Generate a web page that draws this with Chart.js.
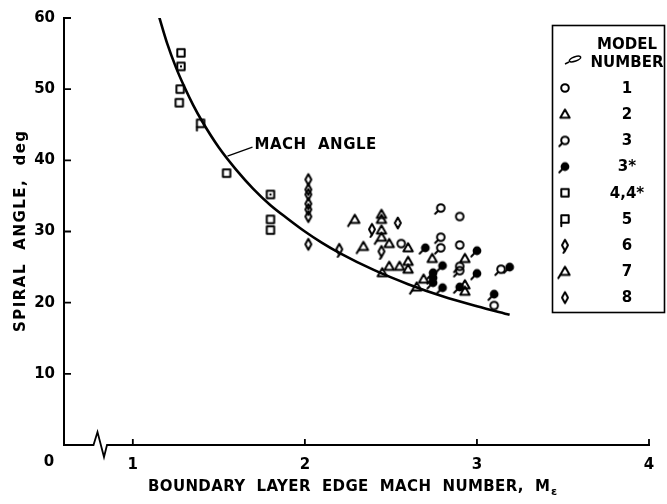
<!DOCTYPE html>
<html>
<head>
<meta charset="utf-8">
<script src="https://cdn.jsdelivr.net/npm/chart.js@4.4.0/dist/chart.umd.min.js"></script>
<style>
    html, body { margin: 0; padding: 0; background: #fff; }
    #wrap { width: 667px; height: 504px; position: relative; }
</style>
</head>
<body>
<div id="wrap"><canvas id="spiralChart"></canvas></div>
<script>
// Mach angle curve
const machCurveM = [1.15, 1.2, 1.25, 1.3, 1.35, 1.4, 1.5, 1.6, 1.7, 1.8, 1.9, 2.0, 2.1, 2.2, 2.4, 2.6, 2.8, 3.0, 3.19];
const machCurveA = [60.4, 56.4, 53.1, 50.3, 47.8, 45.6, 41.8, 38.7, 36.0, 33.7, 31.8, 30.0, 28.4, 27.0, 24.6, 22.6, 20.9, 19.5, 18.3];

// measured spiral angles per model (Mach number, angle in deg)
const model1M = [2.56, 2.90, 2.90, 3.10];
const model1A = [28.3, 32.1, 28.1, 19.6];
const model2M = [2.445, 2.445, 2.445, 2.49, 2.60, 2.49, 2.55, 2.60, 2.60, 2.45, 2.69, 2.74, 2.93, 2.93, 2.93];
const model2A = [32.4, 31.7, 30.2, 28.3, 27.7, 25.1, 25.1, 25.8, 24.7, 24.2, 23.3, 26.2, 26.2, 22.5, 21.6];
const model3M = [2.79, 2.79, 2.79, 2.90, 2.90, 3.14];
const model3A = [33.3, 29.2, 27.7, 25.1, 24.5, 24.7];
const model3sM = [2.70, 2.745, 2.745, 2.745, 2.80, 2.80, 2.90, 3.00, 3.00, 3.10, 3.19];
const model3sA = [27.7, 24.2, 23.5, 22.8, 25.2, 22.1, 22.2, 27.3, 24.1, 21.2, 25.0];
const model4M = [1.28, 1.28, 1.275, 1.27, 1.545, 1.80, 1.80, 1.80];
const model4A = [55.1, 53.2, 50.0, 48.1, 38.2, 35.2, 31.7, 30.2];
const model4Starred = [false, true, false, false, false, true, false, false];
const model5M = [1.394];
const model5A = [45.2];
const model6M = [2.20, 2.39, 2.445];
const model6A = [27.5, 30.3, 27.2];
const model7M = [2.29, 2.34, 2.65, 2.445];
const model7A = [31.7, 27.9, 22.2, 29.2];
const model8M = [2.02, 2.02, 2.02, 2.02, 2.02, 2.02, 2.02, 2.54];
const model8A = [37.3, 35.9, 35.2, 33.9, 33.1, 32.1, 28.2, 31.2];

const modelLabels = ['1', '2', '3', '3*', '4,4*', '5', '6', '7', '8'];
const yTicks = [10, 20, 30, 40, 50, 60];
const xTicks = [1, 2, 3, 4];

const FONT = '"DejaVu Sans", sans-serif';

function toPoints(xs, ys) {
    return xs.map((x, i) => ({ x: x, y: ys[i] }));
}

// small canvases used as point styles
function makeMarker(kind) {
    const c = document.createElement('canvas');
    c.width = 18;
    c.height = 18;
    const g = c.getContext('2d');
    g.strokeStyle = '#000';
    g.fillStyle = '#000';
    g.lineWidth = 2;
    g.lineJoin = 'round';
    g.lineCap = 'round';

    const circle = (fill) => {
        g.beginPath();
        g.arc(9, 9, fill ? 4.4 : 3.8, 0, Math.PI * 2);
        fill ? g.fill() : g.stroke();
    };
    const tri = () => {
        g.beginPath();
        g.moveTo(9, 4.3);
        g.lineTo(13.7, 12.6);
        g.lineTo(4.3, 12.6);
        g.closePath();
        g.stroke();
    };
    const square = () => g.strokeRect(5.3, 5.3, 7.4, 7.4);
    const diamond = () => {
        g.beginPath();
        g.moveTo(9, 3.6);
        g.lineTo(12, 9);
        g.lineTo(9, 14.4);
        g.lineTo(6, 9);
        g.closePath();
        g.stroke();
    };
    const tail = (x1, y1, x2, y2) => {
        g.beginPath();
        g.moveTo(x1, y1);
        g.lineTo(x2, y2);
        g.stroke();
    };

    switch (kind) {
        case 'circle': circle(false); break;
        case 'tri': tri(); break;
        case 'circleTail': circle(false); tail(6.3, 11.7, 3.3, 14.7); break;
        case 'dotTail': circle(true); tail(6.2, 11.8, 3.3, 14.7); break;
        case 'square': square(); break;
        case 'squareDot': square(); g.fillRect(8, 8, 2, 2); break;
        case 'squareTail': square(); tail(5.3, 12.7, 5.3, 16.2); break;
        case 'diamondTail': diamond(); tail(9, 14.4, 7.4, 16.7); break;
        case 'triTail': tri(); tail(4.3, 12.6, 2.3, 15.6); break;
        case 'diamond': diamond(); break;
    }
    return c;
}

const markers = {
    circle: makeMarker('circle'),
    tri: makeMarker('tri'),
    circleTail: makeMarker('circleTail'),
    dotTail: makeMarker('dotTail'),
    square: makeMarker('square'),
    squareDot: makeMarker('squareDot'),
    squareTail: makeMarker('squareTail'),
    diamondTail: makeMarker('diamondTail'),
    triTail: makeMarker('triTail'),
    diamond: makeMarker('diamond')
};

const legendMarkers = [markers.circle, markers.tri, markers.circleTail, markers.dotTail,
    markers.square, markers.squareTail, markers.diamondTail, markers.triTail, markers.diamond];

function modelSet(label, xs, ys, style) {
    return {
        label: label,
        data: toPoints(xs, ys),
        pointStyle: style,
        pointRadius: 5,
        showLine: false
    };
}

const decorPlugin = {
    id: 'decor',
    afterDraw(chart) {
        const ctx = chart.ctx;
        const xs = chart.scales.x;
        const ys = chart.scales.y;
        const area = chart.chartArea;
        ctx.save();
        ctx.strokeStyle = '#000';
        ctx.fillStyle = '#000';

        // inward tick marks
        ctx.lineWidth = 1.8;
        ctx.beginPath();
        yTicks.forEach(v => {
            const py = ys.getPixelForValue(v);
            ctx.moveTo(area.left, py);
            ctx.lineTo(area.left + 7, py);
        });
        xTicks.forEach(v => {
            const px = xs.getPixelForValue(v);
            ctx.moveTo(px, area.bottom);
            ctx.lineTo(px, area.bottom - 6);
        });
        ctx.stroke();

        // axis break
        const b = area.bottom;
        ctx.fillStyle = '#fff';
        ctx.fillRect(92, b - 3, 16, 6);
        ctx.fillStyle = '#000';
        ctx.beginPath();
        ctx.moveTo(91, b);
        ctx.lineTo(93.5, b);
        ctx.lineTo(97.5, b - 13);
        ctx.lineTo(104, b + 12);
        ctx.lineTo(107, b);
        ctx.lineTo(109, b);
        ctx.stroke();

        // origin label
        ctx.font = 'bold 15px ' + FONT;
        ctx.textAlign = 'center';
        ctx.textBaseline = 'middle';
        ctx.fillText('0', 49, 462);

        // y title
        ctx.save();
        ctx.translate(21, 232);
        ctx.rotate(-Math.PI / 2);
        ctx.font = 'bold 15px ' + FONT;
        const yTitle = 'SPIRAL  ANGLE,  deg';
        ctx.letterSpacing = '0px';
        const yw = ctx.measureText(yTitle).width;
        const ySp = Math.max(0, (201 - yw) / (yTitle.length - 1));
        ctx.letterSpacing = ySp.toFixed(2) + 'px';
        ctx.textAlign = 'left';
        ctx.fillText(yTitle, -100, 0);
        ctx.restore();

        // x title with subscript
        ctx.font = 'bold 15px ' + FONT;
        ctx.textAlign = 'left';
        ctx.textBaseline = 'alphabetic';
        const xTitle = 'BOUNDARY  LAYER  EDGE  MACH  NUMBER,  M';
        ctx.letterSpacing = '0px';
        const xw = ctx.measureText(xTitle).width;
        const xSp = Math.max(0, (402 - xw) / (xTitle.length - 1));
        ctx.letterSpacing = xSp.toFixed(2) + 'px';
        ctx.fillText(xTitle, 148, 491);
        ctx.letterSpacing = '0px';
        ctx.font = 'bold 11px ' + FONT;
        ctx.fillText('\u03b5', 551, 495);

        // Mach angle annotation
        const lx = xs.getPixelForValue(1.55);
        const ly = ys.getPixelForValue(40.6);
        ctx.lineWidth = 1.3;
        ctx.beginPath();
        ctx.moveTo(lx, ly);
        ctx.lineTo(lx + 25, ly - 9);
        ctx.stroke();
        ctx.font = 'bold 15px ' + FONT;
        ctx.letterSpacing = '0.5px';
        ctx.textBaseline = 'middle';
        ctx.fillText('MACH  ANGLE', lx + 27, ly - 11);
        ctx.letterSpacing = '0px';

        // legend box
        ctx.fillStyle = '#fff';
        ctx.fillRect(552, 25, 113, 287);
        ctx.fillStyle = '#000';
        ctx.lineWidth = 1.6;
        ctx.strokeRect(552.5, 25.5, 112, 287);
        ctx.font = 'bold 15px ' + FONT;
        ctx.textAlign = 'center';
        ctx.textBaseline = 'middle';
        ctx.fillText('MODEL', 627, 45);
        ctx.fillText('NUMBER', 627, 63);
        // tail mark next to the header
        ctx.lineWidth = 1.5;
        ctx.beginPath();
        ctx.ellipse(575, 59, 6, 2.2, -0.35, 0, Math.PI * 2);
        ctx.stroke();
        ctx.beginPath();
        ctx.moveTo(569, 62);
        ctx.lineTo(565, 64);
        ctx.stroke();

        modelLabels.forEach((lab, i) => {
            const ry = 88 + i * 26.2;
            ctx.drawImage(legendMarkers[i], 565 - 9, ry - 9);
            ctx.fillText(lab, 627, ry + 1);
        });

        ctx.restore();
    }
};

const datasets = [
    {
        type: 'line',
        label: 'Mach angle',
        data: toPoints(machCurveM, machCurveA),
        borderColor: '#000',
        borderWidth: 2.6,
        pointRadius: 0,
        fill: false,
        cubicInterpolationMode: 'monotone'
    },
    modelSet(modelLabels[0], model1M, model1A, markers.circle),
    modelSet(modelLabels[1], model2M, model2A, markers.tri),
    modelSet(modelLabels[2], model3M, model3A, markers.circleTail),
    modelSet(modelLabels[3], model3sM, model3sA, markers.dotTail),
    modelSet(modelLabels[4], model4M, model4A, model4Starred.map(s => s ? markers.squareDot : markers.square)),
    modelSet(modelLabels[5], model5M, model5A, markers.squareTail),
    modelSet(modelLabels[6], model6M, model6A, markers.diamondTail),
    modelSet(modelLabels[7], model7M, model7A, markers.triTail),
    modelSet(modelLabels[8], model8M, model8A, markers.diamond)
];

new Chart(document.getElementById('spiralChart').getContext('2d'), {
    type: 'scatter',
    data: { datasets: datasets },
    options: {
        responsive: true,
        maintainAspectRatio: false,
        animation: false,
        layout: { padding: { top: 15, right: 18, bottom: 0, left: 0 } },
        plugins: {
            legend: { display: false },
            tooltip: { enabled: false },
            title: { display: false }
        },
        scales: {
            x: {
                type: 'linear',
                min: 0.6,
                max: 4,
                afterBuildTicks: (scale) => {
                    scale.ticks = xTicks.map(v => ({ value: v }));
                },
                afterFit: (scale) => { scale.height = 59; },
                grid: { display: false, drawTicks: false },
                border: { display: true, color: '#000', width: 2 },
                ticks: {
                    color: '#000',
                    padding: 11,
                    font: { family: FONT, size: 15, weight: 'bold' },
                    callback: (v) => String(v)
                }
            },
            y: {
                type: 'linear',
                min: 0,
                max: 60,
                afterBuildTicks: (scale) => {
                    scale.ticks = yTicks.map(v => ({ value: v }));
                },
                afterFit: (scale) => { scale.width = 64; },
                grid: { display: false, drawTicks: false },
                border: { display: true, color: '#000', width: 2 },
                ticks: {
                    color: '#000',
                    padding: 9,
                    font: { family: FONT, size: 15, weight: 'bold' },
                    callback: (v) => String(v)
                }
            }
        }
    },
    plugins: [decorPlugin]
});
</script>
</body>
</html>
